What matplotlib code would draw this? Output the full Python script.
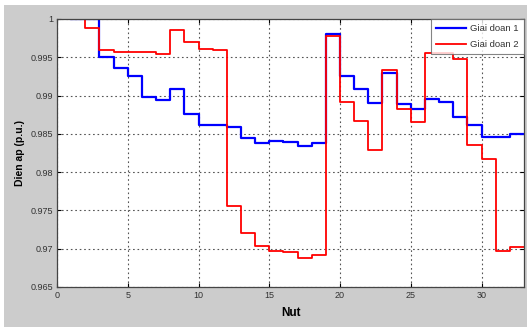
import matplotlib
matplotlib.use('Agg')
import matplotlib.pyplot as plt
from matplotlib.patches import Rectangle
import numpy as np

# Node numbers and bus voltages (p.u.)
nut = np.arange(1, 34)
giai_doan_1 = [1.0, 1.0, 0.9950, 0.9936, 0.9926, 0.9898, 0.9894, 0.9908, 0.9876, 0.9861,
               0.9861, 0.9859, 0.9844, 0.9838, 0.9841, 0.9840, 0.9834, 0.9838, 0.9981, 0.9925,
               0.9909, 0.9890, 0.9929, 0.9889, 0.9883, 0.9895, 0.9891, 0.9872, 0.9861, 0.9846,
               0.9846, 0.9850, 0.9850]
giai_doan_2 = [1.0, 0.9988, 0.9960, 0.9957, 0.9957, 0.99565, 0.9954, 0.9985, 0.9970, 0.9961,
               0.9960, 0.9756, 0.9721, 0.9703, 0.9697, 0.9696, 0.9688, 0.9692, 0.9978, 0.9892,
               0.9867, 0.9829, 0.9933, 0.9882, 0.9865, 0.9956, 0.9955, 0.9948, 0.9835, 0.9817,
               0.9697, 0.9702, 0.9702]
xticks = [0, 5, 10, 15, 20, 25, 30]
yticks = [0.965, 0.97, 0.975, 0.98, 0.985, 0.99, 0.995, 1]

plt.rcParams['font.family'] = ['Liberation Sans', 'DejaVu Sans']

fig = plt.figure(figsize=(5.3, 3.32), dpi=100)
fig.patch.set_facecolor('white')
# grey MATLAB-style figure background
fig.patches.append(Rectangle((4 / 530, 5 / 332), 523 / 530, 322 / 332,
                             transform=fig.transFigure, facecolor='#cccccc',
                             edgecolor='none', zorder=-10))

ax = fig.add_axes([57 / 530, 45 / 332, 467 / 530, 268 / 332])
ax.set_facecolor('white')

ax.step(nut, giai_doan_1, where='post', color='#0000ff', lw=1.6, label='Giai doan 1')
ax.step(nut, giai_doan_2, where='post', color='#ff0000', lw=1.3, label='Giai doan 2')

ax.set_xlim(0, 33)
ax.set_ylim(0.965, 1)
ax.set_xticks(xticks)
ax.set_yticks(yticks)
ax.set_xticklabels([str(t) for t in xticks])
ax.set_yticklabels(['0.965', '0.97', '0.975', '0.98', '0.985', '0.99', '0.995', '1'])
ax.tick_params(direction='in', length=3, width=0.8, top=True, right=True,
               labelsize=6.5, labelcolor='#333333', pad=3)
ax.grid(True, linestyle=(0, (1.5, 2.5)), color='#555555', linewidth=0.8)
for s in ax.spines.values():
    s.set_color('#444444')
    s.set_linewidth(0.9)

ax.set_xlabel('Nut', fontsize=8.5, fontweight='bold', labelpad=5)
ax.set_ylabel('Dien ap (p.u.)', fontsize=7.5, fontweight='bold', labelpad=4)

leg = ax.legend(loc='upper right', fontsize=6.8, frameon=True, fancybox=False,
                borderaxespad=0, handlelength=3.2, handletextpad=0.4,
                borderpad=0.55, labelspacing=0.75)
leg.get_frame().set_edgecolor('#666666')
leg.get_frame().set_linewidth(0.8)
for t in leg.get_texts():
    t.set_color('#333333')

fig.savefig('out.png', dpi=100)
